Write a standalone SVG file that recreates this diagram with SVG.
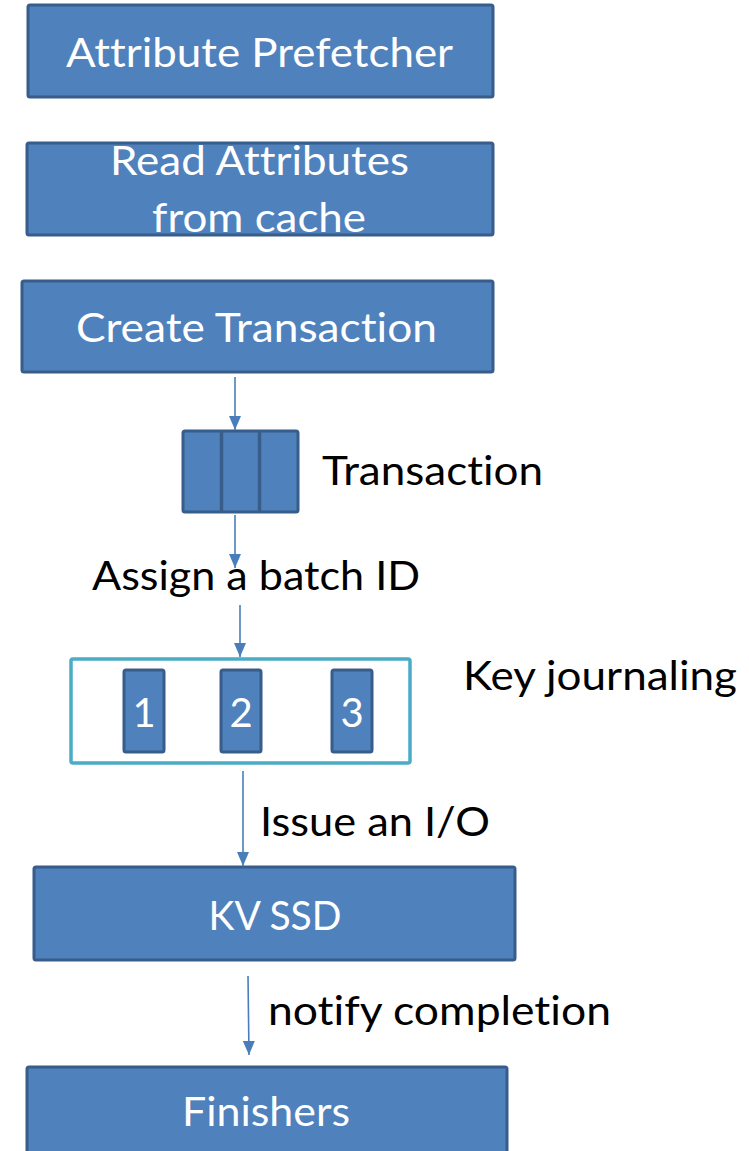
<svg xmlns="http://www.w3.org/2000/svg" width="749" height="1151" viewBox="0 0 749 1151">
  <defs>
    <style>
      .box { fill: #4F81BD; stroke: #385D8A; stroke-width: 3; }
      .jbox { fill: #FFFFFF; stroke: #4BACC6; stroke-width: 3.5; }
      .wt, .bt { font-family: Lato, "Open Sans", "Liberation Sans", sans-serif; font-size: 40px; font-variant-ligatures: none; font-feature-settings: "liga" 0, "clig" 0; }
      .wt { fill: #FFFFFF; }
      .bt { fill: #000000; }
      .link { stroke: #4A7EBB; stroke-width: 1.6; fill: none; }
    </style>
    <marker id="arrow" viewBox="0 0 14 12" refX="14" refY="6" markerWidth="14" markerHeight="12" markerUnits="userSpaceOnUse" orient="auto">
      <path d="M0,0 L14,6 L0,12 Z" fill="#4A7EBB"/>
    </marker>
  </defs>
  <rect width="749" height="1151" fill="#FFFFFF"/>

  <g id="attribute-prefetcher">
    <rect class="box" x="28" y="5" width="465" height="92" rx="2"/>
    <text class="wt" x="66" y="67" textLength="387" lengthAdjust="spacingAndGlyphs">Attribute Prefetcher</text>
  </g>

  <g id="read-attributes">
    <rect class="box" x="27" y="143" width="466" height="92" rx="2"/>
    <text class="wt" x="110" y="175" textLength="299" lengthAdjust="spacingAndGlyphs">Read Attributes</text>
    <text class="wt" x="152" y="232" textLength="214" lengthAdjust="spacingAndGlyphs">from cache</text>
  </g>

  <g id="create-transaction">
    <rect class="box" x="22" y="281" width="471" height="91" rx="2"/>
    <text class="wt" x="76" y="342" textLength="361" lengthAdjust="spacingAndGlyphs">Create Transaction</text>
  </g>

  <g id="transaction">
    <rect class="box" x="183" y="431" width="115" height="81" rx="2"/>
    <line x1="221.5" y1="431" x2="221.5" y2="512" stroke="#385D8A" stroke-width="3.5"/>
    <line x1="259.5" y1="431" x2="259.5" y2="512" stroke="#385D8A" stroke-width="3.5"/>
    <text class="bt" x="322" y="485" textLength="221" lengthAdjust="spacingAndGlyphs">Transaction</text>
  </g>

  <g id="assign-batch-label">
    <text class="bt" x="92" y="590" textLength="328" lengthAdjust="spacingAndGlyphs">Assign a batch ID</text>
  </g>

  <g id="key-journaling">
    <rect class="jbox" x="71" y="659" width="339" height="104" rx="2"/>
    <rect class="box" x="124" y="670" width="40" height="82" rx="2"/>
    <rect class="box" x="221" y="670" width="40" height="82" rx="2"/>
    <rect class="box" x="332" y="670" width="40" height="82" rx="2"/>
    <text class="wt" x="144" y="727" text-anchor="middle">1</text>
    <text class="wt" x="241" y="727" text-anchor="middle">2</text>
    <text class="wt" x="352" y="727" text-anchor="middle">3</text>
    <text class="bt" x="463" y="690" textLength="274" lengthAdjust="spacingAndGlyphs">Key journaling</text>
  </g>

  <g id="issue-io-label">
    <text class="bt" x="260" y="836" textLength="230" lengthAdjust="spacingAndGlyphs">Issue an I/O</text>
  </g>

  <g id="kv-ssd">
    <rect class="box" x="34" y="867" width="481" height="93" rx="2"/>
    <text class="wt" x="275" y="930" text-anchor="middle" textLength="133" lengthAdjust="spacingAndGlyphs">KV SSD</text>
  </g>

  <g id="notify-label">
    <text class="bt" x="268" y="1025" textLength="343" lengthAdjust="spacingAndGlyphs">notify completion</text>
  </g>

  <g id="finishers">
    <rect class="box" x="27" y="1067" width="480" height="100" rx="2"/>
    <text class="wt" x="266" y="1126" text-anchor="middle" textLength="168" lengthAdjust="spacingAndGlyphs">Finishers</text>
  </g>

  <g id="connectors">
    <line class="link" x1="235" y1="377" x2="235" y2="430" marker-end="url(#arrow)"/>
    <line class="link" x1="235" y1="515" x2="235" y2="568" marker-end="url(#arrow)"/>
    <line class="link" x1="240" y1="605" x2="240" y2="657" marker-end="url(#arrow)"/>
    <line class="link" x1="243" y1="771" x2="243" y2="866" marker-end="url(#arrow)"/>
    <line class="link" x1="248" y1="976" x2="249" y2="1055" marker-end="url(#arrow)"/>
  </g>
</svg>
